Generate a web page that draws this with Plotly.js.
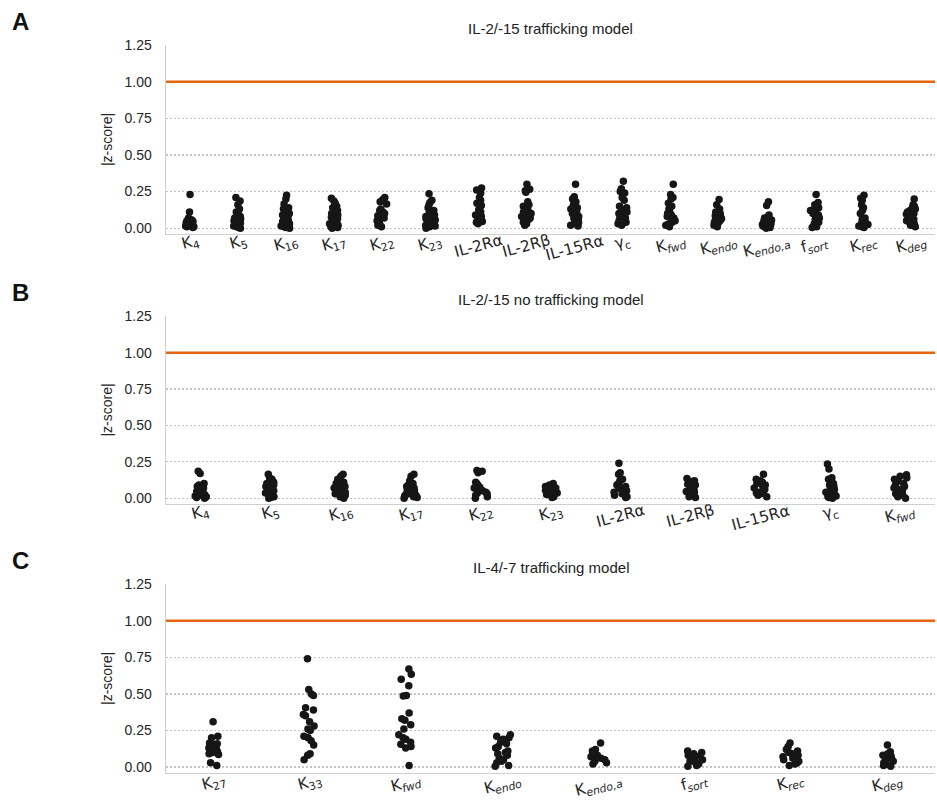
<!DOCTYPE html>
<html>
<head>
<meta charset="utf-8">
<script src="https://cdn.plot.ly/plotly-3.0.1.min.js"></script>
<style>
  html, body { margin: 0; padding: 0; background: #fff; }
  #chart { width: 937px; height: 803px; }
</style>
</head>
<body>
<div id="chart"></div>
<script>
// |z-score| of each fitted parameter across the posterior samples, three models.
const threshold = 1.0;

const titlesModels = ['IL-2/-15 trafficking model', 'IL-2/-15 no trafficking model', 'IL-4/-7 trafficking model'];
const panelLetters = ['A', 'B', 'C'];

// Panel A: IL-2/-15 trafficking model
const catsA = ['K<sub>4</sub>', 'K<sub>5</sub>', 'K<sub>16</sub>', 'K<sub>17</sub>', 'K<sub>22</sub>', 'K<sub>23</sub>',
  'IL-2Rα', 'IL-2Rβ', 'IL-15Rα', 'γ<sub>c</sub>', 'K<sub><i>fwd</i></sub>', 'K<sub><i>endo</i></sub>',
  'K<sub><i>endo,a</i></sub>', 'f<sub><i>sort</i></sub>', 'K<sub><i>rec</i></sub>', 'K<sub><i>deg</i></sub>'];
const zA = [
  [0.23, 0.11, 0.07, 0.06, 0.055, 0.05, 0.05, 0.045, 0.04, 0.04, 0.035, 0.03, 0.03, 0.025, 0.02, 0.02, 0.015, 0.01, 0.01, 0.005],
  [0.21, 0.185, 0.16, 0.13, 0.11, 0.1, 0.09, 0.08, 0.07, 0.065, 0.05, 0.045, 0.04, 0.035, 0.03, 0.02, 0.015, 0.01, 0.005, 0.0],
  [0.225, 0.2, 0.165, 0.14, 0.13, 0.115, 0.1, 0.09, 0.08, 0.07, 0.06, 0.05, 0.045, 0.04, 0.03, 0.02, 0.015, 0.01, 0.005, 0.0],
  [0.205, 0.185, 0.17, 0.15, 0.14, 0.12, 0.1, 0.09, 0.075, 0.065, 0.055, 0.05, 0.04, 0.035, 0.03, 0.02, 0.015, 0.01, 0.005, 0.0],
  [0.21, 0.195, 0.18, 0.165, 0.13, 0.12, 0.11, 0.1, 0.095, 0.085, 0.07, 0.06, 0.05, 0.045, 0.03, 0.02, 0.01],
  [0.235, 0.19, 0.175, 0.16, 0.14, 0.12, 0.11, 0.1, 0.09, 0.08, 0.075, 0.065, 0.055, 0.05, 0.04, 0.03, 0.02, 0.015, 0.01, 0.0],
  [0.275, 0.26, 0.24, 0.21, 0.19, 0.17, 0.155, 0.14, 0.125, 0.11, 0.1, 0.09, 0.08, 0.07, 0.06, 0.05, 0.045, 0.04, 0.03],
  [0.3, 0.265, 0.255, 0.245, 0.18, 0.16, 0.15, 0.135, 0.12, 0.11, 0.1, 0.09, 0.08, 0.07, 0.06, 0.05, 0.04, 0.03, 0.02],
  [0.3, 0.215, 0.2, 0.18, 0.16, 0.14, 0.13, 0.12, 0.11, 0.1, 0.09, 0.08, 0.07, 0.06, 0.05, 0.04, 0.03, 0.02, 0.015],
  [0.32, 0.27, 0.25, 0.24, 0.21, 0.19, 0.15, 0.14, 0.12, 0.11, 0.1, 0.09, 0.08, 0.07, 0.05, 0.04, 0.03, 0.02],
  [0.3, 0.23, 0.21, 0.2, 0.17, 0.15, 0.13, 0.11, 0.1, 0.09, 0.08, 0.07, 0.06, 0.05, 0.04, 0.03, 0.025, 0.02, 0.01],
  [0.195, 0.16, 0.13, 0.11, 0.1, 0.09, 0.085, 0.08, 0.07, 0.065, 0.06, 0.05, 0.045, 0.04, 0.035, 0.03, 0.02, 0.01],
  [0.18, 0.155, 0.09, 0.08, 0.075, 0.07, 0.065, 0.06, 0.055, 0.05, 0.045, 0.04, 0.035, 0.03, 0.025, 0.02, 0.015, 0.01, 0.005, 0.0],
  [0.23, 0.175, 0.16, 0.15, 0.14, 0.13, 0.12, 0.11, 0.1, 0.09, 0.08, 0.07, 0.06, 0.05, 0.04, 0.03, 0.02, 0.01, 0.005],
  [0.225, 0.205, 0.19, 0.16, 0.14, 0.12, 0.1, 0.07, 0.06, 0.055, 0.05, 0.045, 0.04, 0.035, 0.03, 0.025, 0.02, 0.015, 0.01, 0.005],
  [0.2, 0.16, 0.15, 0.14, 0.13, 0.12, 0.11, 0.1, 0.095, 0.09, 0.08, 0.07, 0.06, 0.05, 0.04, 0.03, 0.02, 0.01]
];

// Panel B: IL-2/-15 no trafficking model
const catsB = ['K<sub>4</sub>', 'K<sub>5</sub>', 'K<sub>16</sub>', 'K<sub>17</sub>', 'K<sub>22</sub>', 'K<sub>23</sub>',
  'IL-2Rα', 'IL-2Rβ', 'IL-15Rα', 'γ<sub>c</sub>', 'K<sub><i>fwd</i></sub>'];
const zB = [
  [0.185, 0.17, 0.1, 0.09, 0.08, 0.07, 0.06, 0.05, 0.045, 0.04, 0.035, 0.03, 0.025, 0.02, 0.015, 0.01, 0.005, 0.0],
  [0.165, 0.14, 0.13, 0.11, 0.1, 0.09, 0.08, 0.07, 0.06, 0.05, 0.045, 0.04, 0.035, 0.03, 0.02, 0.01, 0.005, 0.0],
  [0.165, 0.15, 0.13, 0.11, 0.1, 0.09, 0.08, 0.075, 0.07, 0.06, 0.05, 0.04, 0.03, 0.02, 0.01, 0.0],
  [0.165, 0.15, 0.12, 0.1, 0.09, 0.08, 0.07, 0.06, 0.055, 0.05, 0.04, 0.035, 0.03, 0.025, 0.02, 0.015, 0.01, 0.005, 0.0],
  [0.19, 0.185, 0.175, 0.11, 0.1, 0.09, 0.08, 0.075, 0.07, 0.06, 0.05, 0.04, 0.035, 0.03, 0.02, 0.01, 0.0],
  [0.1, 0.09, 0.08, 0.07, 0.06, 0.055, 0.05, 0.045, 0.04, 0.035, 0.03, 0.025, 0.02, 0.01, 0.005],
  [0.24, 0.175, 0.165, 0.13, 0.12, 0.1, 0.09, 0.08, 0.07, 0.06, 0.05, 0.04, 0.03, 0.02, 0.01, 0.005],
  [0.135, 0.12, 0.115, 0.1, 0.095, 0.09, 0.08, 0.07, 0.06, 0.05, 0.045, 0.04, 0.03, 0.02, 0.01, 0.005],
  [0.165, 0.13, 0.12, 0.11, 0.1, 0.09, 0.08, 0.07, 0.06, 0.05, 0.04, 0.035, 0.03, 0.02, 0.01],
  [0.235, 0.2, 0.14, 0.13, 0.11, 0.1, 0.09, 0.08, 0.07, 0.06, 0.05, 0.04, 0.03, 0.02, 0.015, 0.01, 0.005, 0.0],
  [0.16, 0.15, 0.14, 0.13, 0.12, 0.11, 0.1, 0.09, 0.08, 0.07, 0.06, 0.05, 0.04, 0.03, 0.02, 0.01, 0.0]
];

// Panel C: IL-4/-7 trafficking model
const catsC = ['K<sub>27</sub>', 'K<sub>33</sub>', 'K<sub><i>fwd</i></sub>', 'K<sub><i>endo</i></sub>',
  'K<sub><i>endo,a</i></sub>', 'f<sub><i>sort</i></sub>', 'K<sub><i>rec</i></sub>', 'K<sub><i>deg</i></sub>'];
const zC = [
  [0.31, 0.21, 0.2, 0.165, 0.16, 0.155, 0.14, 0.13, 0.125, 0.12, 0.11, 0.105, 0.1, 0.09, 0.085, 0.03, 0.01],
  [0.74, 0.53, 0.5, 0.49, 0.405, 0.39, 0.36, 0.35, 0.31, 0.28, 0.26, 0.25, 0.21, 0.2, 0.18, 0.15, 0.09, 0.08, 0.05],
  [0.67, 0.635, 0.6, 0.555, 0.49, 0.485, 0.37, 0.33, 0.32, 0.29, 0.26, 0.22, 0.2, 0.19, 0.17, 0.155, 0.14, 0.13, 0.01],
  [0.22, 0.21, 0.2, 0.19, 0.17, 0.16, 0.14, 0.13, 0.11, 0.1, 0.09, 0.08, 0.06, 0.05, 0.04, 0.03, 0.01, 0.005],
  [0.165, 0.12, 0.11, 0.1, 0.09, 0.085, 0.08, 0.07, 0.065, 0.06, 0.05, 0.04, 0.03, 0.02],
  [0.11, 0.1, 0.09, 0.08, 0.075, 0.07, 0.06, 0.05, 0.045, 0.04, 0.03, 0.02, 0.01, 0.005],
  [0.165, 0.14, 0.12, 0.11, 0.1, 0.09, 0.08, 0.07, 0.06, 0.05, 0.04, 0.03, 0.02, 0.01],
  [0.15, 0.105, 0.09, 0.08, 0.075, 0.07, 0.06, 0.05, 0.04, 0.03, 0.02, 0.01, 0.005]
];

const yTickVals = [0, 0.25, 0.5, 0.75, 1.0, 1.25];
const yTickText = ['0.00', '0.25', '0.50', '0.75', '1.00', '1.25'];

const panels = [
  { cats: catsA, z: zA, dom: [0.7086, 0.944], jitter: 0.45 },
  { cats: catsB, z: zB, dom: [0.3724, 0.6065], jitter: 0.4 },
  { cats: catsC, z: zC, dom: [0.0375, 0.2728], jitter: 0.35 }
];

const traces = [];
const layout = {
  width: 937, height: 803,
  margin: { l: 0, r: 0, t: 0, b: 0 },
  paper_bgcolor: '#fff', plot_bgcolor: '#fff',
  showlegend: false,
  font: { family: 'Liberation Sans, Arial, sans-serif', color: '#262626', size: 14 },
  annotations: [], shapes: []
};

panels.forEach((p, i) => {
  const n = i === 0 ? '' : String(i + 1);
  const xs = [], ys = [];
  p.z.forEach((vals, k) => vals.forEach(v => { xs.push(k); ys.push(v); }));

  traces.push({
    type: 'box', x: xs, y: ys, xaxis: 'x' + n, yaxis: 'y' + n,
    boxpoints: 'all', jitter: p.jitter, pointpos: 0,
    fillcolor: 'rgba(0,0,0,0)', line: { width: 0, color: 'rgba(0,0,0,0)' },
    marker: { color: '#161616', size: 7.5 },
    hoverinfo: 'y'
  });

  layout['xaxis' + n] = {
    domain: [0.1772, 0.998], anchor: 'y' + n,
    range: [-0.5, p.cats.length - 0.5],
    tickvals: p.cats.map((c, k) => k), ticktext: p.cats.map(() => ''),
    showgrid: false, zeroline: false, ticks: '',
    showline: true, linecolor: '#cfcfcf', linewidth: 1.5
  };
  layout['yaxis' + n] = {
    domain: p.dom, anchor: 'x' + n,
    range: [-0.04, 1.252],
    tickvals: yTickVals, ticktext: yTickText,
    tickfont: { size: 14, color: '#262626' },
    ticks: 'outside', ticklen: 10, tickcolor: 'rgba(0,0,0,0)',
    showgrid: true, gridcolor: '#c4c4c4', griddash: '1.5px,2.5px', gridwidth: 1.2,
    zeroline: false, showline: true, linecolor: '#cfcfcf', linewidth: 1.5,
    title: { text: '|z-score|', font: { size: 14, color: '#262626' }, standoff: 8 }
  };

  // threshold line at |z| = 1
  layout.shapes.push({
    type: 'line', xref: 'x' + n + ' domain', x0: 0, x1: 1,
    yref: 'y' + n, y0: threshold, y1: threshold,
    line: { color: '#e5650c', width: 2.5 }
  });

  // panel title
  layout.annotations.push({
    text: titlesModels[i], xref: 'x' + n + ' domain', x: 0.5,
    yref: 'y' + n + ' domain', y: 1, yanchor: 'bottom', yshift: 6,
    showarrow: false, font: { size: 15, color: '#222' }
  });
  // panel letter
  layout.annotations.push({
    text: '<b>' + panelLetters[i] + '</b>', xref: 'paper', x: 0.011, xanchor: 'left',
    yref: 'y' + n + ' domain', y: 1, yanchor: 'bottom', yshift: 8,
    showarrow: false, font: { size: 24, color: '#111' }
  });
  // rotated category labels
  p.cats.forEach((c, k) => {
    layout.annotations.push({
      text: c, xref: 'x' + n, x: k, xanchor: 'center',
      yref: 'y' + n + ' domain', y: 0, yanchor: 'top', yshift: 5,
      textangle: -15, showarrow: false,
      font: { family: 'DejaVu Sans, sans-serif', size: 15.5, color: '#262626' }
    });
  });
});

Plotly.newPlot('chart', traces, layout, { displayModeBar: false, staticPlot: true });
</script>
</body>
</html>
